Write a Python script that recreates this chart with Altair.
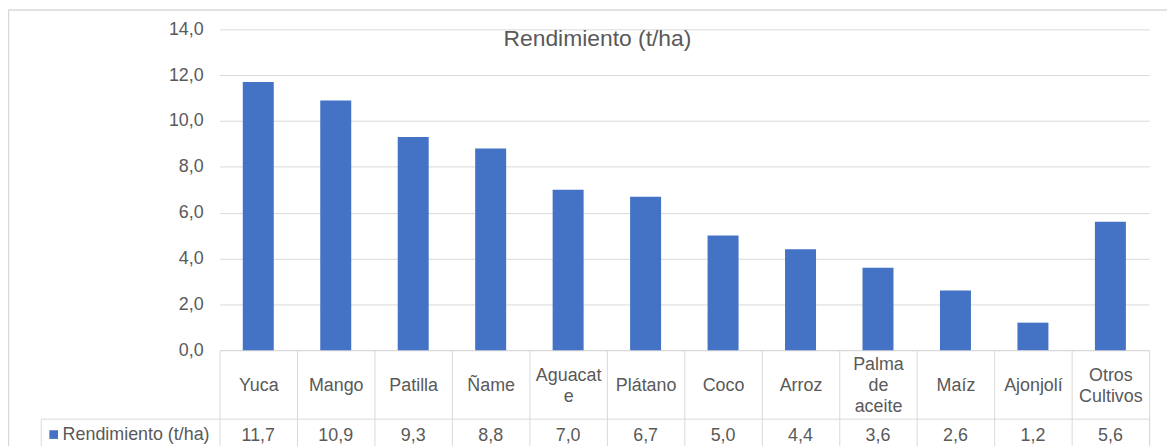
import altair as alt
import pandas as pd

# ---- data ----
CATEGORIES = ["Yuca", "Mango", "Patilla", "Ñame", "Aguacate", "Plátano", "Coco",
              "Arroz", "Palma de aceite", "Maíz", "Ajonjolí", "Otros Cultivos"]
RENDIMIENTO = [11.7, 10.9, 9.3, 8.8, 7.0, 6.7, 5.0, 4.4, 3.6, 2.6, 1.2, 5.6]
SERIES = "Rendimiento (t/ha)"
Y_TICKS = [0, 2, 4, 6, 8, 10, 12, 14]
TITLE = "Rendimiento (t/ha)"

df = pd.DataFrame({"cultivo": CATEGORIES, "valor": RENDIMIENTO, "serie": SERIES})

# ---- style / layout ----
W, H = 936, 323
HEADER_H = 69
TICK_LEN = 130
FS = 18
LH = 21
FONT = "Liberation Sans"
GRAY_TXT = "#595959"
GRAY_LINE = "#d9d9d9"
BLUE = "#4472c4"

xscale = alt.Scale(domain=CATEGORIES, paddingInner=0, paddingOuter=0)

# label lines as in the reference's table header (Excel wraps "Aguacate")
label_expr = (
    "datum.label == 'Aguacate' ? ['Aguacat', 'e'] : "
    "(indexof(datum.label, ' ') >= 0 ? split(datum.label, ' ') : ['', datum.label])"
)
two_line_test = "datum.value == 'Aguacate' || datum.value == 'Otros Cultivos'"

x_axis = alt.Axis(
    title=None, orient="bottom", tickBand="extent", ticks=True,
    tickSize=TICK_LEN, tickColor=GRAY_LINE, tickWidth=1,
    domainColor=GRAY_LINE, domainWidth=1, grid=False,
    labelAngle=0, labelFont=FONT, labelFontSize=FS, labelColor=GRAY_TXT,
    labelBaseline={"condition": {"test": two_line_test, "value": "line-top"}, "value": "middle"},
    labelAlign="center",
    labelPadding=HEADER_H / 2 + 1 - LH - TICK_LEN, labelLineHeight=LH,
    labelOverlap=False, labelBound=False, labelLimit=200,
    labelExpr=label_expr,
)

y_axis = alt.Axis(
    title=None, values=Y_TICKS, grid=True, gridColor=GRAY_LINE, gridWidth=1,
    domain=False, ticks=False, labelFont=FONT, labelFontSize=FS,
    labelColor=GRAY_TXT, labelPadding=16.5,
    labelExpr="replace(format(datum.value, '.1f'), '.', ',')",
)

base = alt.Chart(df)

bars = base.mark_bar(width=alt.RelativeBandSize(0.4)).encode(
    x=alt.X("cultivo:N", scale=xscale, axis=x_axis, sort=CATEGORIES),
    y=alt.Y("valor:Q", scale=alt.Scale(domain=[0, 14], nice=False), axis=y_axis),
    color=alt.Color(
        "serie:N", scale=alt.Scale(range=[BLUE]),
        legend=alt.Legend(
            title=None, orient="none", legendX=-176, legendY=399,
            symbolType="square", symbolSize=76, symbolStrokeWidth=0,
            labelFont=FONT, labelFontSize=FS, labelColor=GRAY_TXT,
            labelOffset=0, padding=0, rowPadding=0,
        ),
    ),
)

values_row = base.transform_calculate(
    lbl="replace(format(datum.valor, '.1f'), '.', ',')"
).mark_text(font=FONT, fontSize=FS, color=GRAY_TXT, baseline="middle", align="center").encode(
    x=alt.X("cultivo:N", scale=xscale, sort=CATEGORIES),
    y=alt.value(H + HEADER_H + 17),
    text="lbl:N",
)

one = alt.Data(values=[{}])

table_row = alt.Chart(one).mark_rect(fillOpacity=0, stroke=GRAY_LINE, strokeWidth=1).encode(
    x=alt.value(-179.5), x2=alt.value(W + 0.5),
    y=alt.value(H + HEADER_H + 0.5), y2=alt.value(H + 300),
)

frame = alt.Chart(one).mark_rect(fillOpacity=0, stroke=GRAY_LINE, strokeWidth=1.5).encode(
    x=alt.value(-212.5), x2=alt.value(W + 300),
    y=alt.value(-19.5), y2=alt.value(H + 300),
)

chart = alt.layer(frame, table_row, bars, values_row).properties(
    width=W, height=H,
    title=alt.TitleParams(
        text=TITLE, font=FONT, fontSize=23, fontWeight="normal", color=GRAY_TXT,
        anchor="middle", frame="group", orient="top", offset=0,
        baseline="middle", dx=-87.5, dy=53,
    ),
    autosize=alt.AutoSizeParams(type="none"),
    padding={"left": 213, "top": 20, "right": 18, "bottom": 95},
    background="white",
).configure_view(stroke="transparent")

chart.save("out.html", embed_options={"renderer": "svg", "actions": False})
